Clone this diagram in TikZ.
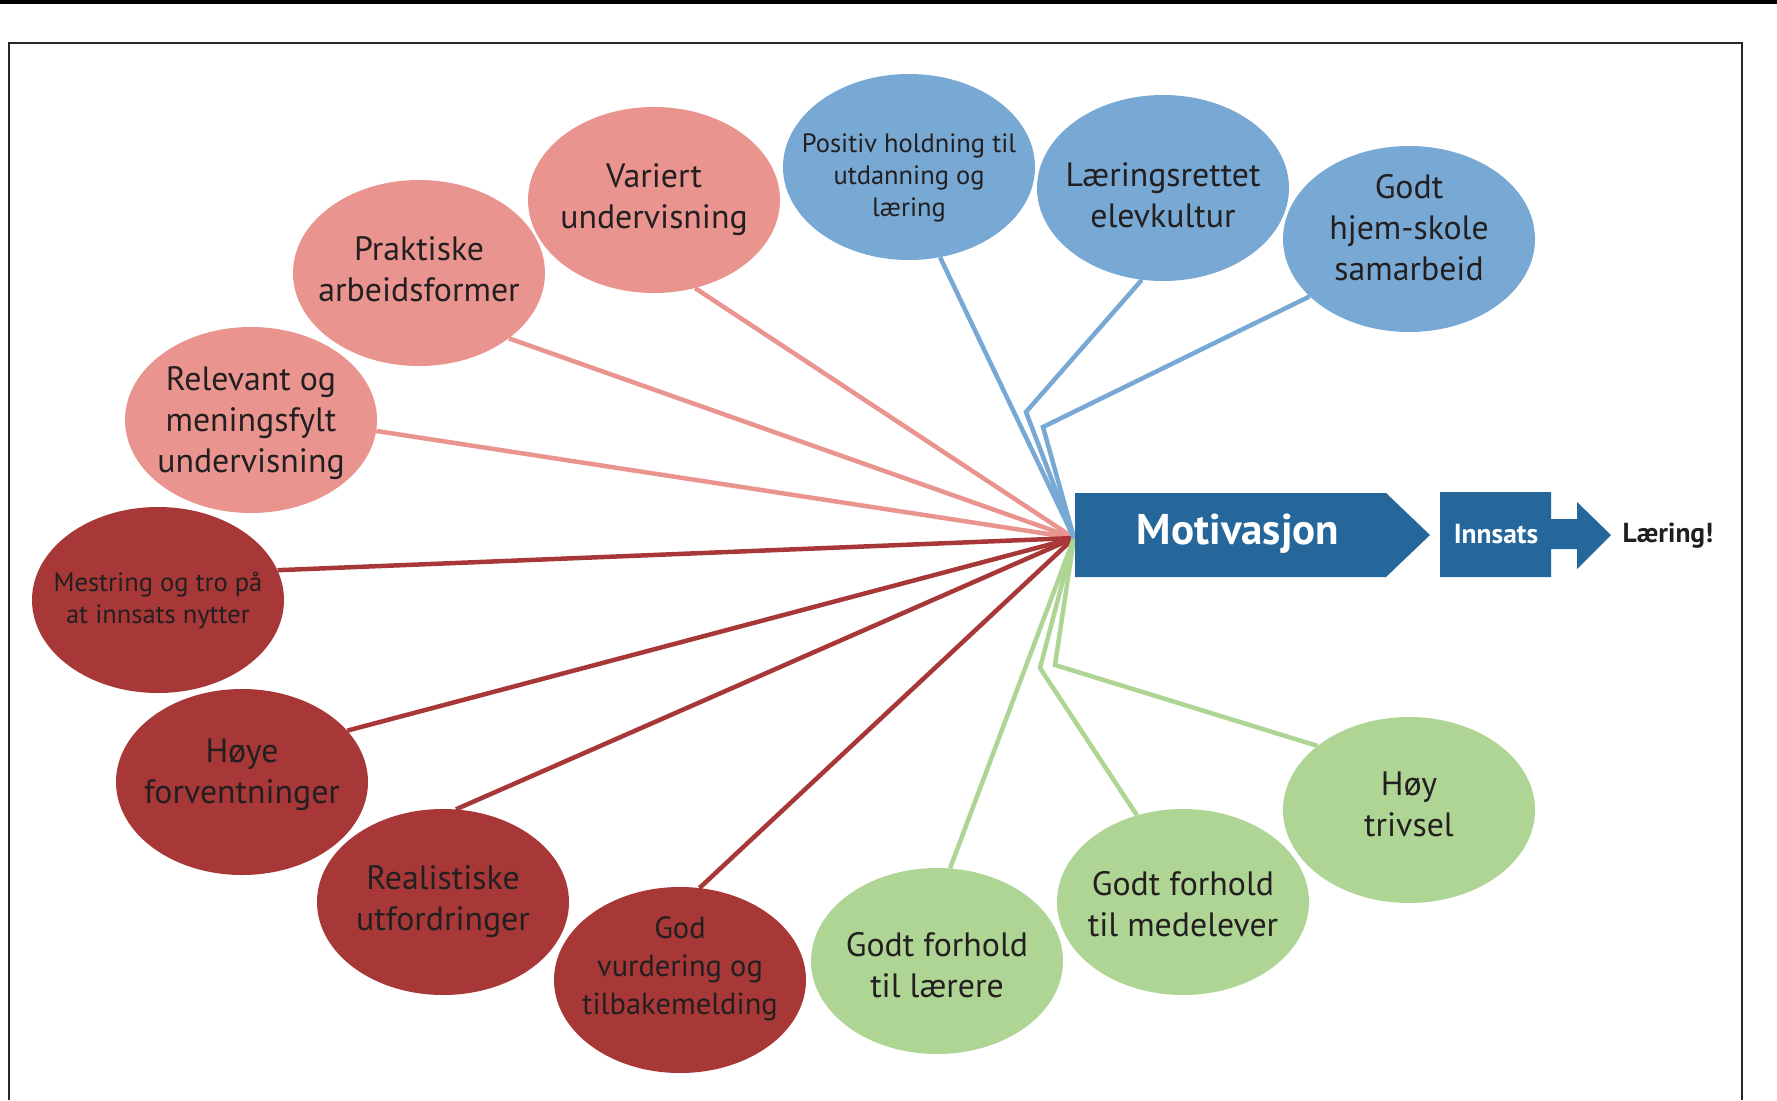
\documentclass[tikz,border=0pt]{standalone}
\usepackage{fontspec}
\setmainfont{PT Sans}
\usetikzlibrary{shapes.geometric}
\definecolor{pinkc}{HTML}{EA9490}
\definecolor{redc}{HTML}{A83838}
\definecolor{bluec}{HTML}{78A9D4}
\definecolor{greenc}{HTML}{AFD594}
\definecolor{navyc}{HTML}{25679A}
\definecolor{txtc}{HTML}{231F20}
\newcommand\bubbig{\fontsize{33.8}{41}\selectfont}
\newcommand\bubmid{\fontsize{30.5}{38}\selectfont}
\newcommand\bubsmall{\fontsize{26.5}{32}\selectfont}
\begin{document}
\begin{tikzpicture}[x=1pt,y=-1pt,
  bub/.style={ellipse, minimum width=252pt, minimum height=186pt, inner sep=0pt},
  pinkb/.style={bub, fill=pinkc},
  redb/.style={bub, fill=redc},
  blueb/.style={bub, fill=bluec},
  greenb/.style={bub, fill=greenc},
  btxt/.style={align=center, inner sep=0pt, text=txtc, font=\bubbig},
  conn/.style={line width=4.5pt, line join=miter},
  pinkl/.style={conn, draw=pinkc},
  redl/.style={conn, draw=redc},
  bluel/.style={conn, draw=bluec},
  greenl/.style={conn, draw=greenc},
  lbl/.style={anchor=base, inner sep=0pt, font=\bfseries\fontsize{27.5}{32}\selectfont}
]
\useasboundingbox (0,0) rectangle (1777,1100);
\fill[white] (0,0) rectangle (1777,1100);
\fill[black] (0,0) rectangle (1777,4);
\draw[line width=2pt, black!85] (9,1100) -- (9,43) -- (1742,43) -- (1742,1100);

% bubbles
\node[pinkb] (var) at (654,200) {};
\node[pinkb] (prak) at (419,273) {};
\node[pinkb] (rel) at (251,420) {};
\node[redb] (mes) at (158,600) {};
\node[redb] (hoye) at (242,782) {};
\node[redb] (real) at (443,902) {};
\node[redb] (god) at (680,980) {};
\node[greenb] (lar) at (937,961) {};
\node[greenb] (med) at (1183,902) {};
\node[greenb] (triv) at (1409,810) {};
\node[blueb] (pos) at (909,167) {};
\node[blueb] (kul) at (1163,188) {};
\node[blueb] (hjem) at (1409,239) {};

% bubble texts
\node[btxt] (var-t) at (var) {Variert\\undervisning};
\node[btxt, yshift=4pt] (prak-t) at (prak) {Praktiske\\arbeidsformer};
\node[btxt, yshift=-3pt] (rel-t) at (rel) {Relevant og\\meningsfylt\\undervisning};
\node[btxt, font=\bubsmall] (mes-t) at (mes) {Mestring og tro på\\at innsats nytter};
\node[btxt, yshift=7pt] (hoye-t) at (hoye) {Høye\\forventninger};
\node[btxt] (real-t) at (real) {Realistiske\\utfordringer};
\node[btxt, font=\bubmid, yshift=11pt] (god-t) at (god) {God\\vurdering og\\tilbakemelding};
\node[btxt, yshift=-4pt] (lar-t) at (lar) {Godt forhold\\til lærere};
\node[btxt, yshift=-2pt] (med-t) at (med) {Godt forhold\\til medelever};
\node[btxt, yshift=6pt] (triv-t) at (triv) {Høy\\trivsel};
\node[btxt, font=\bubsmall, yshift=-11pt] (pos-t) at (pos) {Positiv holdning til\\utdanning og\\læring};
\node[btxt, yshift=-7pt] (kul-t) at (kul) {Læringsrettet\\elevkultur};
\node[btxt, yshift=11pt] (hjem-t) at (hjem) {Godt\\hjem-skole\\samarbeid};

\coordinate (hub) at (1074,538);
\coordinate (bk) at (1026,412);
\coordinate (bh) at (1043,427);
\coordinate (bm) at (1040,668);
\coordinate (bt) at (1055,665);

% connectors
\draw[pinkl] (var.-65.6) -- (hub);
\draw[pinkl] (prak.-36.4) -- (hub);
\draw[pinkl] (rel.-5.4) -- (hub);
\draw[redl] (mes.14.7) -- (hub);
\draw[redl] (hoye.26.3) -- (hub);
\draw[redl] (real.82.1) -- (hub);
\draw[redl] (god.78.6) -- (hub);
\draw[greenl] (lar.82.6) -- (hub);
\draw[greenl] (med.118.3) -- (bm) -- (hub);
\draw[greenl] (triv.145.2) -- (bt) -- (hub);
\draw[bluel] (pos.-71.6) -- (hub);
\draw[bluel] (kul.-103.4) -- (bk) -- (hub);
\draw[bluel] (hjem.-150.1) -- (bh) -- (hub);

% arrows
\fill[navyc] (1075,493) -- (1386,493) -- (1430,535) -- (1386,577) -- (1075,577) -- cycle;
\node[anchor=base, inner sep=0pt, text=white, font=\bfseries\fontsize{43}{50}\selectfont] (mot) at (1238,544) {Motivasjon};
\fill[navyc] (1440,492) -- (1551,492) -- (1551,519) -- (1577,519) -- (1577,502) -- (1611,535) -- (1577,569) -- (1577,549) -- (1551,549) -- (1551,577) -- (1440,577) -- cycle;
\node[lbl, text=white] (inn) at (1496,543) {Innsats};
\node[lbl, text=txtc] (laer) at (1668,542) {Læring!};
\end{tikzpicture}
\end{document}
